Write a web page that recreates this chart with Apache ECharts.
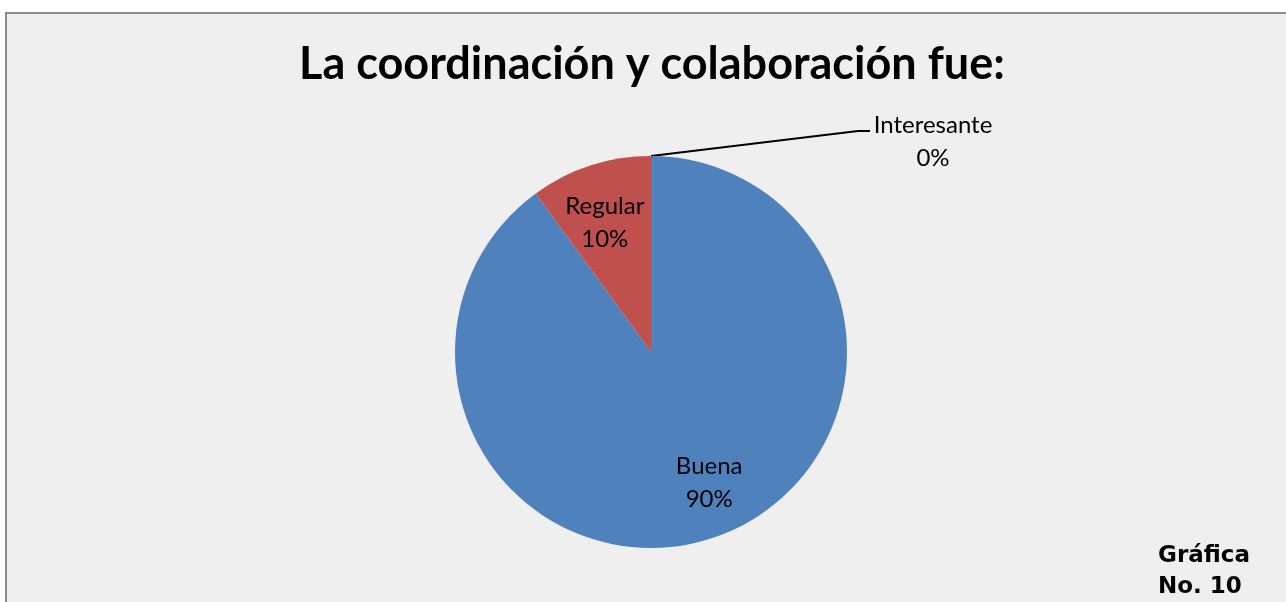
<!DOCTYPE html>
<html>
<head>
<meta charset="utf-8">
<script src="https://cdn.jsdelivr.net/npm/echarts@6/dist/echarts.min.js"></script>
<style>
  html, body { margin: 0; padding: 0; background: #ffffff; overflow: hidden; }
  #frame { position: absolute; left: 5px; top: 12px; width: 1300px; height: 620px;
           background: #efefef; border-left: 2px solid #8c8c8c; border-top: 2px solid #8c8c8c; }
  #chart { position: absolute; left: 0; top: 0; width: 1286px; height: 602px; }
</style>
</head>
<body>
<div id="frame"></div>
<div id="chart"></div>
<script>
// Responses to "La coordinación y colaboración fue:"
const categories = ['Buena', 'Regular', 'Interesante'];
const shares = [90, 10, 0];
const colors = ['#4f81bd', '#c0504d', '#9bbb59'];
const titleText = 'La coordinación y colaboración fue:';
const footnote = ['Gráfica', 'No. 10'];

// small nudges for the inside labels
const insideOffsets = [[14, -5], [-2, 7], [0, 0]];

const labelFont = { fontFamily: 'Lato, "Open Sans", sans-serif', fontSize: 24, lineHeight: 33, color: '#000' };

const pieData = categories.map((name, i) => ({
  name, value: shares[i], itemStyle: { color: colors[i] }
}));

const chart = echarts.init(document.getElementById('chart'), null, { renderer: 'canvas' });

chart.setOption({
  backgroundColor: 'transparent',
  animation: false,
  title: {
    text: titleText,
    left: 299,
    top: 42,
    padding: 0,
    textStyle: { fontFamily: 'Lato, "Open Sans", sans-serif', fontWeight: 'bold', fontSize: 45, color: '#000' }
  },
  graphic: [{
    type: 'text',
    left: 1158,
    top: 541,
    style: {
      text: footnote.join('\n'),
      font: 'bold 23px "DejaVu Sans", Verdana, sans-serif',
      lineHeight: 31,
      fill: '#000'
    }
  }],
  series: [
    {
      // the pie itself
      type: 'pie',
      center: [651, 352],
      radius: 196,
      startAngle: 90,
      clockwise: true,
      silent: true,
      data: pieData.map(d => ({ ...d, label: { show: false }, labelLine: { show: false } })),
      itemStyle: { borderWidth: 0 }
    },
    {
      // inner category labels placed at ~0.7 of the pie radius
      type: 'pie',
      center: [651, 352],
      radius: 280,
      startAngle: 90,
      clockwise: true,
      silent: true,
      data: pieData.map((d, i) => ({
        name: d.name, value: d.value,
        itemStyle: { color: 'transparent' },
        label: { show: shares[i] > 0, offset: insideOffsets[i] }
      })),
      label: {
        position: 'inside',
        formatter: p => p.name + '\n' + p.percent.toFixed(0) + '%',
        ...labelFont
      },
      labelLine: { show: false }
    },
    {
      // outside label with leader line for the empty category
      type: 'pie',
      center: [651, 352],
      radius: 196,
      startAngle: 90,
      clockwise: true,
      silent: true,
      data: pieData.map((d, i) => ({
        name: d.name, value: d.value,
        itemStyle: { color: 'transparent' },
        label: { show: shares[i] === 0 },
        labelLine: { show: shares[i] === 0 }
      })),
      label: {
        position: 'outside',
        formatter: p => p.name + '\n' + p.percent.toFixed(0) + '%',
        align: 'center',
        ...labelFont
      },
      labelLine: { show: true, lineStyle: { color: '#000', width: 2 } },
      labelLayout: function (params) {
        if (params.dataIndex !== 2) return {};
        const start = params.labelLinePoints ? params.labelLinePoints[0] : [651, 156];
        return {
          x: 933, y: 142, align: 'center', verticalAlign: 'middle',
          labelLinePoints: [start, [858, 131], [870, 131]]
        };
      }
    }
  ]
});
</script>
</body>
</html>
